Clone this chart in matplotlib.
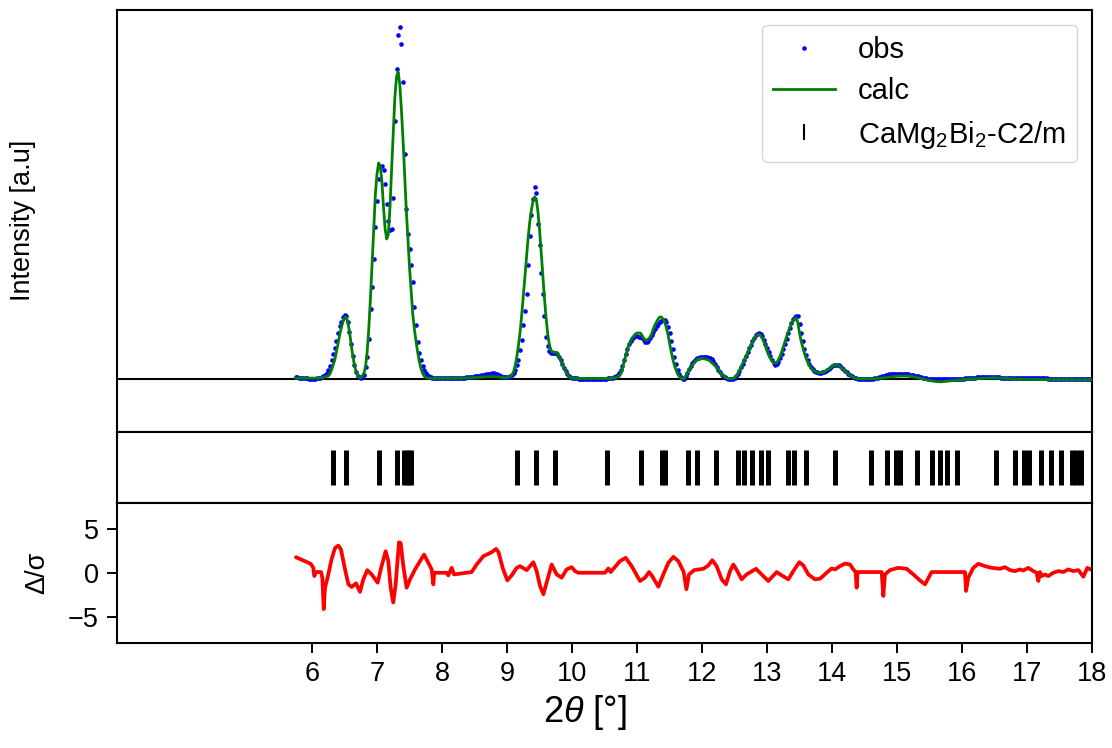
import numpy as np
import matplotlib
matplotlib.use("Agg")
import matplotlib.pyplot as plt
from matplotlib.lines import Line2D

# ---------------- data ----------------
obs = [
    2.0, 1.8, 1.5, 1.2, 1.0, 0.8, 0.7, 0.6, 0.5, 0.5,
    0.4, 0.4, 0.5, 0.6, 0.8, 1.2, 2.0, 3.0, 4.5, 6.5,
    9, 13, 19, 25, 31, 38, 46, 53, 57, 62,
    64, 63, 57, 47, 35, 23, 14, 7, 3.5, 2,
    1.5, 2.5, 4, 12, 22, 40, 70, 92, 120, 152,
    178, 200, 212, 213, 209, 195, 175, 158, 149, 150,
    181, 258, 310, 344, 352, 335, 297, 225, 170, 145,
    130, 114, 97, 72, 54, 37, 26, 19, 13, 9,
    6, 4, 3, 2, 1.5, 1.2, 1, 1, 1, 1,
    1, 1, 1, 1, 1, 1, 1, 1, 1, 1.2,
    1.2, 1.2, 1.3, 1.4, 1.5, 1.6, 1.8, 2.0, 2.2, 2.5,
    2.8, 3.0, 3.2, 3.5, 3.8, 4.0, 4.3, 4.6, 5.0, 5.3,
    5.5, 5.7, 5.6, 5.3, 4.8, 4.0, 3.2, 2.5, 2.0, 1.8,
    1.8, 2, 3, 4.5, 6, 9, 14, 19, 29, 39,
    54, 68, 85, 114, 143, 164, 180, 192, 186, 155,
    134, 106, 85, 63, 42, 33, 28, 26, 26, 26,
    26, 25, 22, 19, 15, 11, 8, 5, 3, 2,
    1.5, 1, 0.8, 0.6, 0.5, 0.5, 0.5, 0.5, 0.5, 0.5,
    0.5, 0.4, 0.3, 0.3, 0.3, 0.3, 0.4, 0.4, 0.5, 0.5,
    0.4, 0.5, 0.6, 0.8, 1.0, 1.4, 2.0, 3.0, 4.5, 6.5,
    9, 13, 19, 25, 30, 35, 38, 40, 42, 43,
    43, 42, 42, 41, 39, 37, 37, 38, 41, 44,
    47, 50, 53, 55, 57, 58, 59, 59, 57, 52,
    46, 38, 30, 22, 15, 9, 5, 2, 0.5, 0.2,
    3, 6, 10, 13, 16, 18, 20, 21, 21.5, 22,
    22, 22, 22, 22, 21.5, 21, 20, 18, 15, 12,
    9.5, 7, 4.5, 3, 1.8, 1, 0.4, 0.2, 0.2, 0.5,
    1.5, 3, 5.5, 8.5, 12, 15.5, 19, 23, 27, 31,
    34, 38, 41, 44, 45.5, 46, 45, 43, 39, 35,
    31, 27, 23, 19, 16, 14.5, 15, 17, 21, 25,
    30, 35, 40, 46, 51, 56, 60, 62, 63, 63,
    55, 46, 38, 30, 24, 19, 15, 12, 10, 8.5,
    7.5, 7, 6.5, 6.5, 7, 7.5, 8.5, 9.5, 10.5, 11.5,
    13, 14, 14.5, 14.5, 14, 13, 11.5, 10, 8.5, 7,
    5.5, 4, 3, 2, 1.2, 0.6, 0.3, 0.2, 0.2, 0.3,
    0.3, 0.3, 0.3, 0.3, 0.4, 0.5, 0.7, 1, 1.5, 2,
    2.5, 3, 3.5, 4, 4.5, 4.8, 5, 5.2, 5.3, 5.4,
    5.5, 5.5, 5.5, 5.4, 5.3, 5.2, 5, 4.8, 4.5, 4.2,
    3.8, 3.4, 3, 2.6, 2.2, 1.8, 1.4, 1, 0.7, 0.4,
    0.2, 0, -0.2, -0.3, -0.4, -0.4, -0.4, -0.3, -0.3, -0.2,
    -0.1, 0, 0, 0.1, 0.1, 0.2, 0.2, 0.3, 0.3, 0.3,
    0.4, 0.5, 0.6, 0.7, 0.8, 1, 1.1, 1.3, 1.5, 1.7,
    1.8, 2, 2.1, 2.2, 2.3, 2.3, 2.3, 2.3, 2.2, 2.1,
    2, 1.9, 1.8, 1.6, 1.5, 1.4, 1.3, 1.2, 1.1, 1,
    1, 0.9, 0.9, 0.8, 0.8, 0.8, 0.7, 0.7, 0.7, 0.7,
    0.7, 0.7, 0.7, 0.7, 0.7, 0.6, 0.6, 0.6, 0.6, 0.6,
    0.6, 0.6, 0.6, 0.5, 0.5, 0.5, 0.5, 0.5, 0.5, 0.5,
    0.5, 0.5, 0.5, 0.5, 0.4, 0.4, 0.4, 0.4, 0.4, 0.4,
    0.4, 0.4, 0.4, 0.4, 0.4, 0.4, 0.4, 0.4, 0.4, 0.4,
    0.4,
]

calc = [
    0.8, 0.8, 0.8, 0.8, 0.7, 0.7, 0.7, 0.7, 0.7, 0.7,
    0.7, 0.8, 0.8, 0.9, 1.0, 1.1, 1.3, 1.6, 2.0, 2.5,
    3, 5, 9, 14, 19, 27, 35, 44, 51, 57,
    61, 62, 57, 48, 36, 24, 15, 8, 4, 2,
    1.3, 3, 6, 13, 28, 52, 82, 115, 150, 185,
    205, 216, 213, 198, 172, 150, 140, 145, 172, 210,
    245, 282, 302, 307, 295, 270, 240, 205, 170, 140,
    112, 88, 65, 50, 38, 27, 18, 11, 6, 3,
    1.5, 1.0, 0.8, 0.7, 0.7, 0.7, 0.7, 0.7, 0.7, 0.7,
    0.7, 0.7, 0.7, 0.7, 0.7, 0.7, 0.7, 0.7, 0.7, 0.8,
    0.8, 0.8, 0.9, 0.9, 1.0, 1.0, 1.1, 1.2, 1.3, 1.4,
    1.5, 1.6, 1.7, 1.8, 2.0, 2.1, 2.2, 2.3, 2.4, 2.5,
    2.5, 2.5, 2.4, 2.3, 2.1, 1.9, 1.7, 1.5, 1.4, 1.4,
    1.5, 1.8, 2.5, 4, 7, 13, 22, 33, 46, 63,
    82, 102, 122, 141, 157, 169, 178, 182, 180, 168,
    150, 128, 105, 82, 62, 46, 35, 29, 27, 27,
    26.5, 26, 23, 19, 15, 11, 8, 5, 3, 1.5,
    0.8, 0.6, 0.5, 0.5, 0.5, 0.5, 0.5, 0.5, 0.5, 0.5,
    0.5, 0.5, 0.5, 0.5, 0.5, 0.5, 0.5, 0.5, 0.5, 0.5,
    0.5, 0.5, 0.5, 0.6, 0.7, 0.9, 1.2, 1.6, 2.2, 3.2,
    5, 10, 17, 23, 29, 34, 38, 41, 43, 45,
    46, 46, 46, 44, 41, 39, 39, 40, 42, 45,
    50, 54, 57, 60, 62, 62, 60, 57, 52, 45,
    36, 28, 20, 14, 9, 5, 2.5, 1, 0.5, 0.3,
    3, 6, 9, 12, 14, 16, 18, 19.5, 20, 20.5,
    20.5, 20.3, 20, 19.5, 19, 17.8, 16.3, 14.8, 13.2, 11.5,
    9.5, 7, 5, 3.2, 2, 1, 0.5, 0.3, 0.3, 0.5,
    1.5, 3, 5.5, 8.5, 12, 15.5, 19, 22.5, 26, 29.5,
    33, 37, 40, 42.5, 44, 44.5, 43.5, 41, 37.5, 33,
    28, 24, 21, 18.5, 16.5, 16, 16.5, 19, 22.5, 27,
    32, 37, 42, 47, 51.5, 55, 58, 60.5, 61, 56,
    46, 38, 32, 26, 21, 17, 13.5, 11, 9, 8,
    7, 6.5, 6.3, 6.3, 6.5, 7, 8, 9, 10, 11,
    12.5, 13.5, 14, 14, 13.5, 12.5, 11, 9.5, 8, 6.5,
    5, 3.8, 2.7, 1.8, 1, 0.5, 0.2, 0.1, 0.1, 0.2,
    0.2, 0.2, 0.2, 0.2, 0.2, 0.2, 0.3, 0.4, 0.5, 0.7,
    0.9, 1.1, 1.3, 1.5, 1.7, 1.9, 2.1, 2.3, 2.5, 2.7,
    2.8, 2.9, 3, 3, 3, 3, 3, 2.9, 2.8, 2.6,
    2.3, 2, 1.6, 1.2, 0.8, 0.4, 0, -0.4, -0.8, -1.2,
    -1.5, -1.8, -2.1, -2.4, -2.6, -2.7, -2.8, -2.8, -2.7, -2.6,
    -2.4, -2.2, -2, -1.8, -1.6, -1.4, -1.2, -1.1, -1, -0.9,
    -0.8, -0.6, -0.5, -0.3, -0.2, 0, 0.1, 0.2, 0.3, 0.4,
    0.5, 0.7, 0.8, 0.9, 1, 1.1, 1.2, 1.3, 1.3, 1.3,
    1.3, 1.2, 1.1, 1, 0.9, 0.8, 0.6, 0.5, 0.4, 0.3,
    0.2, 0.1, 0, -0.1, -0.2, -0.2, -0.3, -0.3, -0.3, -0.4,
    -0.4, -0.4, -0.4, -0.4, -0.4, -0.4, -0.4, -0.4, -0.5, -0.5,
    -0.5, -0.5, -0.5, -0.5, -0.5, -0.6, -0.6, -0.6, -0.6, -0.6,
    -0.6, -0.6, -0.6, -0.6, -0.7, -0.7, -0.7, -0.7, -0.7, -0.7,
    -0.7, -0.7, -0.7, -0.7, -0.7, -0.7, -0.7, -0.7, -0.7, -0.7,
    -0.7,
]

two_theta = np.linspace(5.75, 18.0, len(obs))

reflections = [
    6.328, 6.528, 7.031, 7.313, 7.42, 7.47, 7.52, 9.149, 9.441, 9.738,
    10.543, 11.067, 11.38, 11.43, 11.79, 11.93, 12.22, 12.559, 12.651,
    12.774, 12.90, 13.02, 13.33, 13.42, 13.605, 14.05, 14.605, 14.846,
    14.985, 15.046, 15.30, 15.533, 15.66, 15.765, 15.928, 16.518, 16.81,
    16.95, 17.03, 17.215, 17.365, 17.52, 17.687, 17.76, 17.83,
]

res_x = [
    5.754, 5.892, 5.98, 6.02, 6.036, 6.06, 6.138, 6.16, 6.18, 6.20, 6.24,
    6.30, 6.354, 6.405, 6.446, 6.508, 6.56, 6.61, 6.677, 6.738, 6.79,
    6.85, 6.918, 7.01, 7.07, 7.133, 7.174, 7.21, 7.25, 7.287, 7.338,
    7.364, 7.405, 7.456, 7.508, 7.585, 7.662, 7.723, 7.79, 7.841, 7.867,
    7.88, 8.072, 8.097, 8.149, 8.185, 8.456, 8.533, 8.636, 8.764, 8.831,
    8.87, 8.933, 9.005, 9.072, 9.149, 9.2, 9.303, 9.405, 9.456, 9.508,
    9.56, 9.61, 9.687, 9.764, 9.841, 9.918, 9.995, 10.046, 10.097,
    10.508, 10.56, 10.595, 10.636, 10.738, 10.826, 10.918, 11.046,
    11.123, 11.185, 11.226, 11.328, 11.405, 11.482, 11.56, 11.636,
    11.718, 11.76, 11.80, 11.88, 12.02, 12.097, 12.159, 12.226, 12.303,
    12.369, 12.431, 12.482, 12.544, 12.61, 12.687, 12.83, 12.933, 13.02,
    13.149, 13.226, 13.328, 13.405, 13.497, 13.559, 13.636, 13.738,
    13.815, 13.918, 13.995, 14.046, 14.123, 14.2, 14.277, 14.328, 14.364,
    14.379, 14.395, 14.764, 14.79, 14.815, 14.892, 15.02, 15.149, 15.251,
    15.364, 15.431, 15.533, 16.046, 16.062, 16.097, 16.174, 16.251,
    16.354, 16.456, 16.584, 16.661, 16.738, 16.815, 16.892, 16.944,
    17.02, 17.097, 17.149, 17.174, 17.2, 17.226, 17.277, 17.328, 17.405,
    17.482, 17.559, 17.636, 17.713, 17.79, 17.867, 17.928, 17.97, 18.0,
]
res_y = [
    1.77, 1.32, 1.02, 0.56, -0.38, 0.08, 0.08, -0.6, -4.14, -1.7, -0.56,
    1.5, 2.82, 3.09, 2.64, 0.38, -1.32, -1.62, -1.2, -2.18, -0.75,
    0.3, -0.19, -1.13, 0.75, 2.45, 1.32, -1.7, -3.39, -1.32, 3.47,
    3.39, 0.75, -1.7, -0.75, 0.38, 1.32, 2.07, 1.13, 0.38, -1.32,
    0.0, 0.0, -0.3, 0.56, -0.19, 0.08, 0.94, 1.88, 2.34, 2.71,
    2.34, 0.56, -0.87, -0.3, 0.56, 0.75, 0.3, 1.2, 0.19, -1.5,
    -2.45, -1.13, 0.94, -0.19, -0.56, 0.38, 0.64, 0.19, 0.0,
    0.0, 0.49, 0.08, 0.45, 1.32, 1.7, 0.75, -0.94,
    -0.56, 0.08, -0.3, -1.58, -0.19, 1.13, 1.81, 1.32,
    0.1, -1.88, -0.19, 0.3, 0.45, 0.83, 1.43, 0.75, -0.75,
    -1.32, 0.19, 0.94, 0.19, -0.75, -0.19, 0.45, -0.3, -0.94,
    0.08, -0.3, -0.75, 0.19, 1.2, 0.83, -0.19, -0.75,
    -0.68, 0.0, 0.49, 0.38, 0.75, 1.05, 0.94, 0.38, 0.08,
    -1.7, 0.08, 0.08, -2.64, -0.19, 0.3, 0.56, 0.45, -0.19,
    -0.94, -1.32, 0.08, 0.08, -2.07, -0.56, 0.56, 1.02,
    0.75, 0.56, 0.45, 0.64, 0.3, 0.19, 0.38, 0.26,
    0.56, 0.19, 0.0, -0.94, 0.08, -0.38, -0.19, -0.38, 0.0,
    0.19, 0.08, 0.38, 0.19, 0.3, -0.45, 0.56, 0.38, 0.45,
]

phase_label = "CaMg$_2$Bi$_2$-C2/m"

# ---------------- styling ----------------
plt.rcParams.update({
    "font.family": ["Liberation Sans", "DejaVu Sans"],
    "mathtext.fontset": "custom",
    "mathtext.rm": "Liberation Sans",
    "mathtext.it": "Liberation Sans:italic",
    "mathtext.bf": "Liberation Sans:bold",
    "font.size": 19.5,
    "axes.linewidth": 1.5,
})

W, H = 1112, 748
fig = plt.figure(figsize=(W / 100, H / 100), dpi=100)
gs = fig.add_gridspec(3, 1, height_ratios=[421.5, 71, 140.5], hspace=0,
                      left=117 / W, right=1092 / W,
                      top=1 - 10 / H, bottom=1 - 643 / H)
ax1 = fig.add_subplot(gs[0])
ax2 = fig.add_subplot(gs[1], sharex=ax1)
ax3 = fig.add_subplot(gs[2], sharex=ax1)

# main panel
ax1.axhline(0, color="black", lw=1.5, zorder=1)
ax1.plot(two_theta, obs, "o", color="blue", ms=3.3, mew=0, zorder=2)
ax1.plot(two_theta, calc, "-", color="green", lw=2, zorder=3)
ax1.set_ylim(-52.5, 369)
ax1.set_yticks([])
ax1.tick_params(bottom=False, labelbottom=False)
ax1.set_ylabel("Intensity [a.u]")
ax1.yaxis.set_label_coords(-0.083, 0.5)

handles = [
    Line2D([], [], marker="o", ls="none", color="blue", ms=3.3, mew=0, label="obs"),
    Line2D([], [], color="green", lw=2, label="calc"),
    Line2D([], [], marker="|", ls="none", color="black", ms=11, mew=1.5, label=phase_label),
]
ax1.legend(handles=handles, loc="upper right", fontsize=21, handlelength=2.1,
           labelspacing=0.45)

# reflection tick panel
ax2.vlines(reflections, 0.24, 0.74, color="black", lw=3.6)
ax2.set_ylim(0, 1)
ax2.set_yticks([])
ax2.tick_params(bottom=False, labelbottom=False)

# residual panel
ax3.plot(res_x, res_y, color="red", lw=2.7, solid_joinstyle="round",
         solid_capstyle="round")
ax3.set_ylim(-8, 8)
ax3.set_yticks([-5, 0, 5])
ax3.set_xlim(3, 18)
ax3.set_xticks(list(range(6, 19)))
ax3.tick_params(length=7, width=1.4, pad=6)
ax3.set_ylabel("Δ/σ")
ax3.yaxis.set_label_coords(-0.068, 0.5)
ax3.set_xlabel(r"2$\theta$ [°]", fontsize=26)
ax3.xaxis.set_label_coords((585 - 117) / 975, -0.355)

fig.savefig("out.png", dpi=100)
